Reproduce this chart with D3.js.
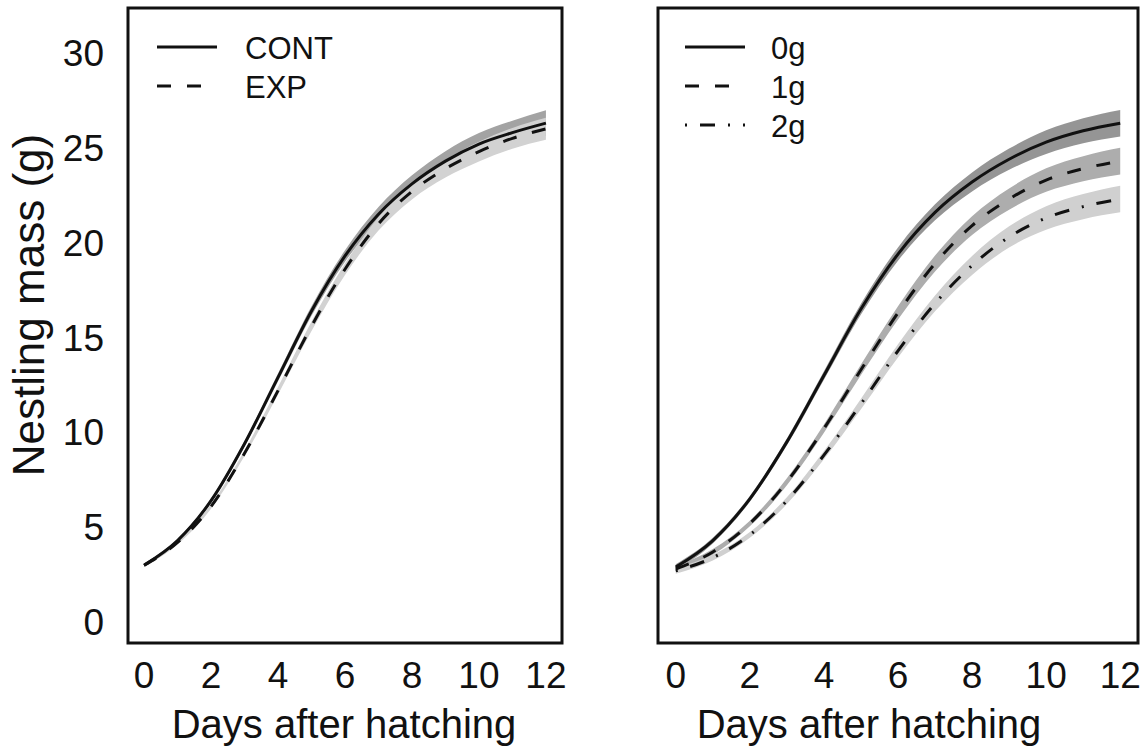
<!DOCTYPE html>
<html>
<head>
<meta charset="utf-8">
<script src="https://cdn.jsdelivr.net/npm/d3@7"></script>
<style>
  body { margin: 0; background: #fff; }
  svg text { font-family: "Liberation Sans", Arial, sans-serif; fill: #111; }
</style>
</head>
<body>
<svg id="chart" width="1148" height="749"></svg>
<script>
// days after hatching
const days = [0, 1, 2, 3, 4, 5, 6, 7, 8, 9, 10, 11, 12];

// left panel: treatment
const contMass = [3.0, 4.3, 6.4, 9.4, 12.9, 16.4, 19.3, 21.5, 23.1, 24.3, 25.2, 25.8, 26.3];
const contSe   = [0.1, 0.1, 0.12, 0.15, 0.2, 0.25, 0.3, 0.38, 0.45, 0.52, 0.58, 0.63, 0.68];
const expMass  = [3.0, 4.2, 6.1, 8.9, 12.2, 15.6, 18.6, 21.0, 22.7, 23.9, 24.8, 25.5, 26.0];
const expSe    = [0.1, 0.1, 0.12, 0.15, 0.2, 0.25, 0.3, 0.36, 0.42, 0.47, 0.52, 0.55, 0.58];

// right panel: added load
const g0Mass = [2.9, 4.3, 6.5, 9.5, 13.0, 16.5, 19.4, 21.6, 23.2, 24.4, 25.3, 25.9, 26.3];
const g0Se   = [0.15, 0.15, 0.15, 0.18, 0.22, 0.28, 0.35, 0.42, 0.5, 0.56, 0.62, 0.66, 0.7];
const g1Mass = [2.8, 3.7, 5.2, 7.4, 10.2, 13.3, 16.3, 18.9, 20.9, 22.3, 23.3, 23.9, 24.3];
const g1Se   = [0.15, 0.15, 0.15, 0.18, 0.22, 0.28, 0.35, 0.42, 0.5, 0.56, 0.62, 0.66, 0.7];
const g2Mass = [2.7, 3.4, 4.6, 6.4, 8.8, 11.5, 14.3, 16.8, 18.8, 20.3, 21.3, 21.9, 22.3];
const g2Se   = [0.15, 0.15, 0.15, 0.18, 0.22, 0.28, 0.35, 0.42, 0.5, 0.56, 0.62, 0.66, 0.7];

const xTicks = [0, 2, 4, 6, 8, 10, 12];
const yTicks = [0, 5, 10, 15, 20, 25, 30];

const svg = d3.select("#chart");
const boxTop = 8, boxBottom = 643;

const y = d3.scaleLinear().domain([-1.1, 32.37]).range([boxBottom, boxTop]);

const panels = [
  {
    left: 128, right: 562, titleX: 344, legendX: 157, legendTextX: 245,
    series: [
      { name: "CONT", mass: contMass, se: contSe, fill: "#a3a3a3", dash: null },
      { name: "EXP", mass: expMass, se: expSe, fill: "#d2d2d2", dash: "14,16" }
    ],
    yAxis: true
  },
  {
    left: 658, right: 1138, titleX: 869, legendX: 685, legendTextX: 771,
    series: [
      { name: "0g", mass: g0Mass, se: g0Se, fill: "#959595", dash: null },
      { name: "1g", mass: g1Mass, se: g1Se, fill: "#adadad", dash: "14,16" },
      { name: "2g", mass: g2Mass, se: g2Se, fill: "#d0d0d0", dash: "2,13,15,13" }
    ],
    yAxis: false
  }
];

panels.forEach(p => {
  const x = d3.scaleLinear().domain([-0.48, 12.48]).range([p.left, p.right]);
  const g = svg.append("g");

  const area = d3.area()
    .x((d, i) => x(days[i]))
    .y0(d => y(d[0]))
    .y1(d => y(d[1]))
    .curve(d3.curveMonotoneX);

  const line = d3.line()
    .x((d, i) => x(days[i]))
    .y(d => y(d))
    .curve(d3.curveMonotoneX);

  // confidence ribbons
  p.series.forEach(s => {
    const band = s.mass.map((m, i) => [m - s.se[i], m + s.se[i]]);
    g.append("path")
      .datum(band)
      .attr("d", area)
      .attr("fill", s.fill);
  });

  // fitted curves
  p.series.forEach(s => {
    g.append("path")
      .datum(s.mass)
      .attr("d", line)
      .attr("fill", "none")
      .attr("stroke", "#111")
      .attr("stroke-width", 3)
      .attr("stroke-dasharray", s.dash);
  });

  // frame
  g.append("rect")
    .attr("x", p.left).attr("y", boxTop)
    .attr("width", p.right - p.left).attr("height", boxBottom - boxTop)
    .attr("fill", "none").attr("stroke", "#111").attr("stroke-width", 3);

  // x tick labels
  g.selectAll(".xt").data(xTicks).enter().append("text")
    .attr("x", d => x(d)).attr("y", 688)
    .attr("text-anchor", "middle")
    .attr("font-size", 37)
    .text(d => d);

  g.append("text")
    .attr("x", p.titleX).attr("y", 738)
    .attr("text-anchor", "middle")
    .attr("font-size", 40)
    .text("Days after hatching");

  if (p.yAxis) {
    g.selectAll(".yt").data(yTicks).enter().append("text")
      .attr("x", 104).attr("y", d => y(d) + 13)
      .attr("text-anchor", "end")
      .attr("font-size", 37)
      .text(d => d);

    g.append("text")
      .attr("transform", "translate(44,305) rotate(-90)")
      .attr("text-anchor", "middle")
      .attr("font-size", 44)
      .text("Nestling mass (g)");
  }

  // legend
  p.series.forEach((s, i) => {
    const ly = 47 + i * 39;
    g.append("line")
      .attr("x1", p.legendX).attr("x2", p.legendX + 60)
      .attr("y1", ly).attr("y2", ly)
      .attr("stroke", "#111").attr("stroke-width", 3)
      .attr("stroke-dasharray", s.dash);
    g.append("text")
      .attr("x", p.legendTextX).attr("y", ly + 12)
      .attr("font-size", 31)
      .text(s.name);
  });
});
</script>
</body>
</html>
